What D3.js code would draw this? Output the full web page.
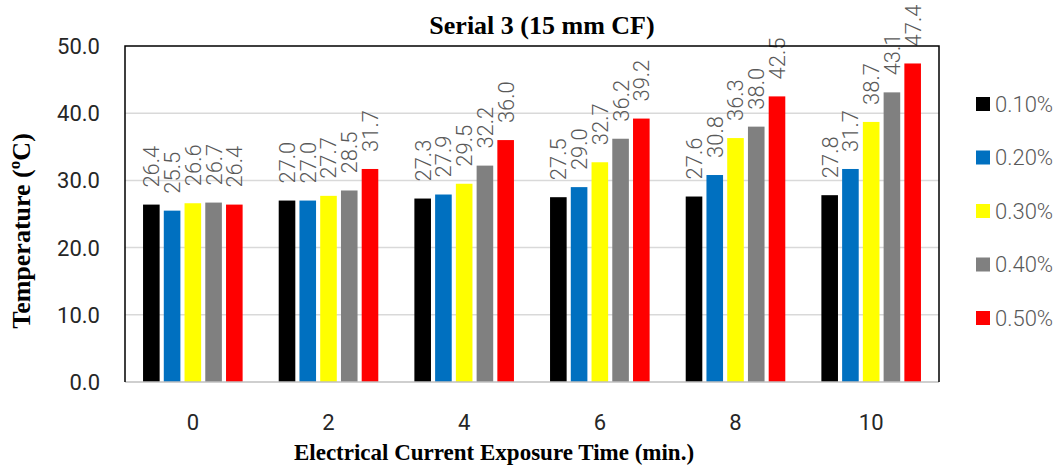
<!DOCTYPE html>
<html>
<head>
<meta charset="utf-8">
<script src="https://cdn.jsdelivr.net/npm/d3@7"></script>
<style>
  body { margin: 0; background: #fff; }
</style>
</head>
<body>
<svg id="chart"></svg>
<script>
// data
var categories = ["0", "2", "4", "6", "8", "10"];
var seriesNames = ["0.10%", "0.20%", "0.30%", "0.40%", "0.50%"];
var seriesColors = ["#000000", "#0070C0", "#FFFF00", "#808080", "#FF0000"];
var s010 = [26.4, 27.0, 27.3, 27.5, 27.6, 27.8];
var s020 = [25.5, 27.0, 27.9, 29.0, 30.8, 31.7];
var s030 = [26.6, 27.7, 29.5, 32.7, 36.3, 38.7];
var s040 = [26.7, 28.5, 32.2, 36.2, 38.0, 43.1];
var s050 = [26.4, 31.7, 36.0, 39.2, 42.5, 47.4];
var yTicks = [0, 10, 20, 30, 40, 50];

var allSeries = [s010, s020, s030, s040, s050];

var width = 1059, height = 466;
var plotLeft = 125, plotRight = 939, plotTop = 46, plotBottom = 382;

var svg = d3.select("#chart")
    .attr("width", width)
    .attr("height", height);

var x0 = d3.scaleBand()
    .domain(categories)
    .range([plotLeft, plotRight])
    .paddingInner(0.266)
    .paddingOuter(0.133);

var x1 = d3.scaleBand()
    .domain(seriesNames)
    .range([0, x0.bandwidth()])
    .paddingInner(0.2);

var y = d3.scaleLinear()
    .domain([0, 50])
    .range([plotBottom, plotTop]);

// gridlines
svg.append("g")
    .selectAll("line")
    .data(yTicks.slice(1, -1))
    .enter().append("line")
    .attr("x1", plotLeft)
    .attr("x2", plotRight)
    .attr("y1", function(d) { return y(d); })
    .attr("y2", function(d) { return y(d); })
    .attr("stroke", "#d9d9d9")
    .attr("stroke-width", 1.5);

// bars
var rows = [];
categories.forEach(function(c, i) {
    seriesNames.forEach(function(s, j) {
        rows.push({ cat: c, series: s, color: seriesColors[j], value: allSeries[j][i] });
    });
});

svg.append("g")
    .selectAll("rect")
    .data(rows)
    .enter().append("rect")
    .attr("x", function(d) { return x0(d.cat) + x1(d.series); })
    .attr("y", function(d) { return y(d.value); })
    .attr("width", x1.bandwidth())
    .attr("height", function(d) { return plotBottom - y(d.value); })
    .attr("fill", function(d) { return d.color; });

// value labels, rotated
svg.append("g")
    .selectAll("text")
    .data(rows)
    .enter().append("text")
    .attr("transform", function(d) {
        var cx = x0(d.cat) + x1(d.series) + x1.bandwidth() / 2;
        return "translate(" + cx + "," + (y(d.value) - 17) + ") rotate(-90)";
    })
    .attr("dy", "0.36em")
    .attr("text-anchor", "start")
    .attr("font-family", "Roboto, sans-serif")
    .attr("font-weight", 300)
    .attr("font-size", 22)
    .attr("fill", "#595959")
    .text(function(d) { return d.value.toFixed(1); });

// x axis line
svg.append("line")
    .attr("x1", plotLeft).attr("x2", plotRight)
    .attr("y1", plotBottom).attr("y2", plotBottom)
    .attr("stroke", "#bfbfbf")
    .attr("stroke-width", 1.5);

// plot border (left, top, right)
svg.append("path")
    .attr("d", "M" + plotLeft + "," + plotBottom + "V" + plotTop + "H" + plotRight + "V" + plotBottom)
    .attr("fill", "none")
    .attr("stroke", "#000")
    .attr("stroke-width", 1.5);

// y tick labels
svg.append("g")
    .selectAll("text")
    .data(yTicks)
    .enter().append("text")
    .attr("x", 100)
    .attr("y", function(d) { return y(d); })
    .attr("dy", "0.36em")
    .attr("text-anchor", "end")
    .attr("font-family", "Roboto, sans-serif")
    .attr("font-size", 22)
    .attr("fill", "#262626")
    .text(function(d) { return d.toFixed(1); });

// x tick labels
svg.append("g")
    .selectAll("text")
    .data(categories)
    .enter().append("text")
    .attr("x", function(d) { return x0(d) + x0.bandwidth() / 2; })
    .attr("y", 422)
    .attr("dy", "0.36em")
    .attr("text-anchor", "middle")
    .attr("font-family", "Roboto, sans-serif")
    .attr("font-size", 22)
    .attr("fill", "#262626")
    .text(function(d) { return d; });

// titles
svg.append("text")
    .attr("x", 542).attr("y", 34)
    .attr("text-anchor", "middle")
    .attr("font-family", "'Liberation Serif', 'Times New Roman', serif")
    .attr("font-weight", "bold")
    .attr("font-size", 26)
    .text("Serial 3 (15 mm CF)");

svg.append("text")
    .attr("x", 494).attr("y", 460)
    .attr("text-anchor", "middle")
    .attr("font-family", "'Liberation Serif', 'Times New Roman', serif")
    .attr("font-weight", "bold")
    .attr("font-size", 23)
    .text("Electrical Current Exposure Time (min.)");

svg.append("text")
    .attr("transform", "translate(30,231) rotate(-90)")
    .attr("text-anchor", "middle")
    .attr("font-family", "'Liberation Serif', 'Times New Roman', serif")
    .attr("font-weight", "bold")
    .attr("font-size", 26)
    .text("Temperature (ºC)");

// legend
var legend = svg.append("g")
    .selectAll("g")
    .data(seriesNames)
    .enter().append("g")
    .attr("transform", function(d, i) { return "translate(976," + (104 + i * 53.5) + ")"; });

legend.append("rect")
    .attr("x", 0).attr("y", -7)
    .attr("width", 14).attr("height", 14)
    .attr("fill", function(d, i) { return seriesColors[i]; });

legend.append("text")
    .attr("x", 19)
    .attr("dy", "0.36em")
    .attr("font-family", "Roboto, sans-serif")
    .attr("font-weight", 300)
    .attr("font-size", 22)
    .attr("fill", "#595959")
    .text(function(d) { return d; });
</script>
</body>
</html>
